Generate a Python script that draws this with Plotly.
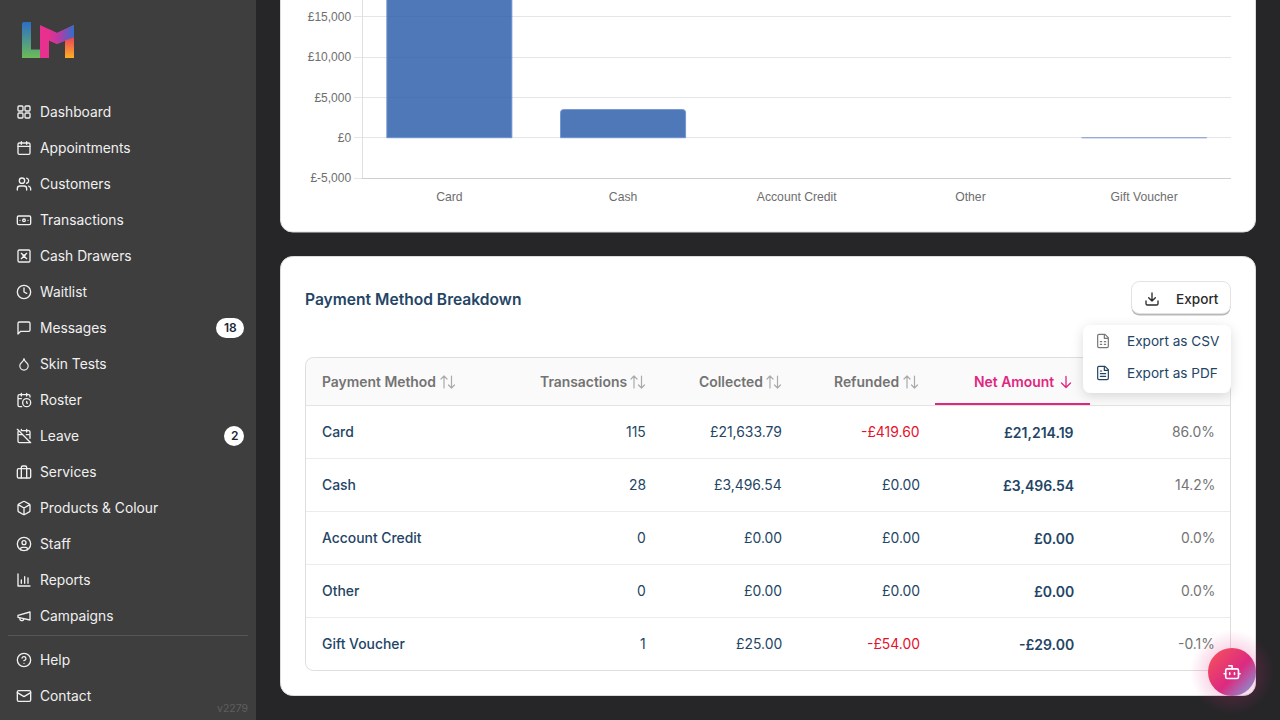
import base64
import plotly.graph_objects as go

# ---------- data ----------
methods = ["Card", "Cash", "Account Credit", "Other", "Gift Voucher"]
net_values = [21214.19, 3496.54, 0.0, 0.0, -29.0]
y_ticks = [-5000, 0, 5000, 10000, 15000]
y_tick_labels = ["£-5,000", "£0", "£5,000", "£10,000", "£15,000"]

transactions = ["115", "28", "0", "0", "1"]
collected = ["£21,633.79", "£3,496.54", "£0.00", "£0.00", "£25.00"]
refunded = ["-£419.60", "£0.00", "£0.00", "£0.00", "-£54.00"]
net_labels = ["£21,214.19", "£3,496.54", "£0.00", "£0.00", "-£29.00"]
percent = ["86.0%", "14.2%", "0.0%", "0.0%", "-0.1%"]

nav_items = ["Dashboard", "Appointments", "Customers", "Transactions", "Cash Drawers",
             "Waitlist", "Messages", "Skin Tests", "Roster", "Leave", "Services",
             "Products & Colour", "Staff", "Reports", "Campaigns"]
nav_footer = ["Help", "Contact"]

# ---------- colours ----------
PAGE = "#262628"
SIDE = "#3e3e3e"
NAVY = "#234565"
GREY = "#737373"
RED = "#e5102a"
PINK = "#e0267f"
FONT = "Inter"

# ---------- icons (24 unit box) ----------
ICONS = {
 "Dashboard": '<rect x="3" y="3" width="7.5" height="7.5" rx="1.5"/><rect x="13.5" y="3" width="7.5" height="7.5" rx="1.5"/><rect x="3" y="13.5" width="7.5" height="7.5" rx="1.5"/><rect x="13.5" y="13.5" width="7.5" height="7.5" rx="1.5"/>',
 "Appointments": '<rect x="3" y="4.5" width="18" height="17" rx="2"/><path d="M3 9.5h18M8 2.5v4M16 2.5v4"/>',
 "Customers": '<path d="M16 21v-2a4 4 0 0 0-4-4H6a4 4 0 0 0-4 4v2"/><circle cx="9" cy="7" r="4"/><path d="M22 21v-2a4 4 0 0 0-3-3.87M16 3.13a4 4 0 0 1 0 7.75"/>',
 "Transactions": '<rect x="2" y="6" width="20" height="13" rx="2"/><circle cx="12" cy="12.5" r="2"/><path d="M6 12.5h.01M18 12.5h.01"/>',
 "Cash Drawers": '<rect x="3" y="3" width="18" height="18" rx="2"/><path d="M8 8l8 8M16 8l-8 8"/><circle cx="12" cy="12" r="1.5"/>',
 "Waitlist": '<circle cx="12" cy="12" r="10"/><path d="M12 6v6l4 2"/>',
 "Messages": '<path d="M21 15a2 2 0 0 1-2 2H7l-4 4V5a2 2 0 0 1 2-2h14a2 2 0 0 1 2 2z"/>',
 "Skin Tests": '<path d="M12 22a7 7 0 0 0 7-7c0-2-1-3.9-3-5.5s-3.5-4-4-6.5c-.5 2.5-2 4.9-4 6.5C6 11.1 5 13 5 15a7 7 0 0 0 7 7z" transform="translate(12 13) scale(.9) translate(-12 -13)"/>',
 "Roster": '<path d="M21 7.5V6a2 2 0 0 0-2-2H5a2 2 0 0 0-2 2v14a2 2 0 0 0 2 2h3.5M16 2v4M8 2v4M3 10h5"/><circle cx="16" cy="16" r="6"/><path d="M16 14v2l1 1"/>',
 "Leave": '<path d="M4.2 4.2A2 2 0 0 0 3 6v14a2 2 0 0 0 2 2h14a2 2 0 0 0 1.82-1.18M21 15.5V6a2 2 0 0 0-2-2H9.5M16 2v4M3 10h7M21 10h-5.5M2 2l20 20M8 2v2"/>',
 "Services": '<rect x="2" y="7" width="20" height="14" rx="2"/><path d="M16 21V5a2 2 0 0 0-2-2h-4a2 2 0 0 0-2 2v16"/>',
 "Products & Colour": '<path d="M21 8a2 2 0 0 0-1-1.73l-7-4a2 2 0 0 0-2 0l-7 4A2 2 0 0 0 3 8v8a2 2 0 0 0 1 1.73l7 4a2 2 0 0 0 2 0l7-4A2 2 0 0 0 21 16ZM3.3 7 12 12l8.7-5M12 22V12"/>',
 "Staff": '<circle cx="12" cy="12" r="10"/><circle cx="12" cy="10" r="3"/><path d="M7 20.662V19a2 2 0 0 1 2-2h6a2 2 0 0 1 2 2v1.662"/>',
 "Reports": '<path d="M3 3v18h18M8 17v-5M13 17V7M18 17v-8"/>',
 "Campaigns": '<path d="m3 11 18-5v12L3 14v-3zM11.6 16.8a3 3 0 1 1-5.8-1.6"/>',
 "Help": '<circle cx="12" cy="12" r="10"/><path d="M9.09 9a3 3 0 0 1 5.83 1c0 2-3 3-3 3M12 17h.01"/>',
 "Contact": '<rect x="2" y="4" width="20" height="16" rx="2"/><path d="m22 7-10 6L2 7"/>',
}

def icon(name, cy):
    return (f'<g transform="translate(16 {cy-8}) scale(.6667)" fill="none" stroke="#f0f0f0" '
            f'stroke-width="2" stroke-linecap="round" stroke-linejoin="round">{ICONS[name]}</g>')

nav_y = [112 + 36 * i for i in range(len(nav_items))]
foot_y = [660, 696]

def sort_icon(x, cy=382):
    return (f'<path d="M{x+2.5} {cy+6}V{cy-6}M{x-.5} {cy-3}L{x+2.5} {cy-6}L{x+5.5} {cy-3}'
            f'M{x+10} {cy-6}V{cy+6}M{x+7} {cy+3}L{x+10} {cy+6}L{x+13} {cy+3}" '
            f'fill="none" stroke="#ababab" stroke-width="1.2" stroke-linecap="round" stroke-linejoin="round"/>')

row_lines = "".join(f'<path d="M306 {y}.5H1230" stroke="#ececec"/>' for y in [458, 511, 564, 617])

backdrop = f'''<svg xmlns="http://www.w3.org/2000/svg" width="1280" height="720" viewBox="0 0 1280 720">
<defs>
<linearGradient id="lg" x1="0" y1="0" x2="0" y2="1"><stop offset="0" stop-color="#2d6ec6"/><stop offset="1" stop-color="#6dbb58"/></linearGradient>
<linearGradient id="mg" x1="0" y1="0" x2="1" y2="0"><stop offset="0" stop-color="#e8308f"/><stop offset=".45" stop-color="#b03da8"/><stop offset="1" stop-color="#2f70cc"/></linearGradient>
<linearGradient id="og" x1="0" y1="0" x2="0" y2="1"><stop offset="0" stop-color="#e8405f"/><stop offset="1" stop-color="#fdb022"/></linearGradient>
<linearGradient id="bg" x1=".05" y1=".1" x2=".95" y2=".95"><stop offset="0" stop-color="#f44f5e"/><stop offset=".55" stop-color="#dc2a80"/><stop offset="1" stop-color="#7f9bd8"/></linearGradient>
<radialGradient id="glow"><stop offset=".6" stop-color="#e02a80" stop-opacity=".16"/><stop offset="1" stop-color="#e02a80" stop-opacity="0"/></radialGradient>
<filter id="ds" x="-20%" y="-30%" width="140%" height="170%"><feDropShadow dx="0" dy="3" stdDeviation="6" flood-color="#000" flood-opacity=".14"/></filter>
<clipPath id="tc"><rect x="305.5" y="357.5" width="925" height="313" rx="8"/></clipPath>
</defs>
<rect width="1280" height="720" fill="{PAGE}"/>
<rect width="256" height="720" fill="{SIDE}"/>
<path d="M8 635.5H248" stroke="#565656"/>
<path d="M22 24a2 2 0 0 1 2-2h7v27.5h9V58H22z" fill="url(#lg)"/>
<path d="M40 25l17 8 17-8v12l-17 7-8-3.500V58h-9z" fill="#e8308f"/>
<path d="M49 29.200l8 3.800 17-8v12l-17 7-8-3.500z" fill="url(#mg)"/>
<path d="M65 40.500l9-3.500V58h-9z" fill="url(#og)"/>
{''.join(icon(n, y) for n, y in zip(nav_items, nav_y))}
{''.join(icon(n, y) for n, y in zip(nav_footer, foot_y))}
<rect x="216" y="318" width="28" height="20" rx="10" fill="#fff"/>
<circle cx="234" cy="436" r="10" fill="#fff"/>
<rect x="280.500" y="-20" width="975" height="252" rx="12" fill="#fff" stroke="#dcdcdc"/>
<rect x="280.500" y="256.500" width="975" height="439" rx="12" fill="#fff" stroke="#dcdcdc"/>
<g clip-path="url(#tc)"><rect x="305.500" y="357.500" width="925" height="48" fill="#fafafa"/></g>
<path d="M306 405.500H1230" stroke="#e3e3e3"/>
{row_lines}
<rect x="305.500" y="357.500" width="925" height="313" rx="8" fill="none" stroke="#dedede"/>
<rect x="935" y="403" width="155" height="2" fill="{PINK}"/>
{sort_icon(441.5)}{sort_icon(631.5)}{sort_icon(767.5)}{sort_icon(904.5)}
<path d="M1066 376.500V387.500M1061.500 383L1066 387.500L1070.500 383" fill="none" stroke="{PINK}" stroke-width="1.300" stroke-linecap="round" stroke-linejoin="round"/>
<rect x="1131.500" y="282.500" width="99" height="33" rx="8" fill="#b8b8b8"/>
<rect x="1131.500" y="281.500" width="99" height="32" rx="8" fill="#fff" stroke="#e2e2e2"/>
<g transform="translate(1144 291) scale(.667)" fill="none" stroke="#2a2a2a" stroke-width="2" stroke-linecap="round" stroke-linejoin="round"><path d="M3 15v4a2 2 0 0 0 2 2h14a2 2 0 0 0 2-2v-4M7 10l5 5 5-5M12 15V3"/></g>
<rect x="1083" y="325" width="148" height="68" rx="8" fill="#fff" filter="url(#ds)"/>
<g transform="translate(1095 333) scale(.667)" fill="none" stroke="#777" stroke-width="1.800" stroke-linecap="round" stroke-linejoin="round"><path d="M15 2H6a2 2 0 0 0-2 2v16a2 2 0 0 0 2 2h12a2 2 0 0 0 2-2V7zM14 2v6h6M8 13h2M14 13h2M8 17h2M14 17h2"/></g>
<g transform="translate(1095 365) scale(.667)" fill="none" stroke="{NAVY}" stroke-width="1.800" stroke-linecap="round" stroke-linejoin="round"><path d="M15 2H6a2 2 0 0 0-2 2v16a2 2 0 0 0 2 2h12a2 2 0 0 0 2-2V7zM14 2v6h6M8 13h8M8 17h8M8 9h2"/></g>
<circle cx="1232" cy="672" r="42" fill="url(#glow)"/>
<circle cx="1232" cy="672" r="24" fill="url(#bg)"/>
<g transform="translate(1222.500 662.500) scale(.8)" fill="none" stroke="#fff" stroke-width="2" stroke-linecap="round" stroke-linejoin="round"><path d="M12 8V4H8"/><rect x="4" y="8" width="16" height="12" rx="2"/><path d="M2 14h2M20 14h2M15 13v2M9 13v2"/></g>
</svg>'''
backdrop_uri = "data:image/svg+xml;base64," + base64.b64encode(backdrop.encode()).decode()

W, H = 1280, 720
annotations = []

def txt(x, y, s, size=14, color=NAVY, anchor="left", weight=400, family=FONT):
    annotations.append(dict(x=x / W, y=1 - y / H, xref="paper", yref="paper", text=s,
                            showarrow=False, xanchor=anchor, yanchor="middle",
                            font=dict(family=family, size=size, color=color, weight=weight),
                            borderpad=0, borderwidth=0))

for name, y in zip(nav_items, nav_y):
    txt(40, y, name, size=13.8, color="#f0f0f0")
for name, y in zip(nav_footer, foot_y):
    txt(40, y, name, size=13.8, color="#f0f0f0")
txt(248, 708, "v2279", size=10.5, color="#5e5e5e", anchor="right")
txt(230, 328, "18", size=12, color="#1c2536", anchor="center", weight=600)
txt(234, 436, "2", size=12, color="#1c2536", anchor="center", weight=600)

txt(305, 299.5, "Payment Method Breakdown", size=15.6, weight=600)
txt(1176, 299, "Export", size=13.6, color="#2a2a2a", weight=500)
txt(1127, 341, "Export as CSV", size=13.6)
txt(1127, 373, "Export as PDF", size=13.6)

txt(322, 382, "Payment Method", size=13.9, color=GREY, weight=600)
txt(626.5, 382, "Transactions", size=13.9, color=GREY, anchor="right", weight=600)
txt(763, 382, "Collected", size=13.9, color=GREY, anchor="right", weight=600)
txt(899, 382, "Refunded", size=13.9, color=GREY, anchor="right", weight=600)
txt(1054, 382, "Net Amount", size=13.9, color=PINK, anchor="right", weight=600)

row_y = [432, 485, 538, 591, 644]
for i, y in enumerate(row_y):
    txt(322, y, methods[i], size=13.9, weight=500)
    txt(646, y, transactions[i], size=13.9, anchor="right")
    txt(782, y, collected[i], size=13.9, anchor="right")
    txt(919.5, y, refunded[i], size=13.9, anchor="right", color=RED if refunded[i].startswith("-") else NAVY)
    txt(1074, y, net_labels[i], size=14, anchor="right", weight=600)
    txt(1214.5, y, percent[i], size=13.9, anchor="right", color=GREY)

line_widths = [0 if v == 0 else (1 if abs(v) > 1000 else 0.5) for v in net_values]

fig = go.Figure(go.Bar(
    x=methods, y=net_values,
    marker=dict(color="rgba(48,96,173,0.85)",
                line=dict(color="rgba(110,148,208,0.9)", width=line_widths)),
    hoverinfo="skip",
))

fig.update_layout(
    width=W, height=H, autosize=False,
    margin=dict(l=0, r=0, t=0, b=0, pad=0, autoexpand=False),
    paper_bgcolor=PAGE, plot_bgcolor="rgba(0,0,0,0)",
    showlegend=False, bargap=0.28, barcornerradius=3,
    annotations=annotations,
    images=[dict(source=backdrop_uri, xref="paper", yref="paper", x=0, y=1, sizex=1, sizey=1,
                 xanchor="left", yanchor="top", sizing="stretch", layer="below")],
    xaxis=dict(domain=[362.5 / W, 1231 / W], type="category", range=[-0.5, 4.5],
               showgrid=False, zeroline=False, showline=True, linecolor="#cfcfcf", linewidth=1,
               ticks="", ticklabelstandoff=7,
               tickfont=dict(family="Liberation Sans", size=12.2, color="#6e6e6e")),
    yaxis=dict(domain=[1 - 178 / H, 1], range=[-5000, 17100],
               tickvals=y_ticks, ticktext=y_tick_labels,
               showgrid=True, gridcolor="#e5e5e5", gridwidth=1,
               zeroline=True, zerolinecolor="#e5e5e5", zerolinewidth=1,
               showline=True, linecolor="#e0e0e0", linewidth=1,
               ticks="outside", ticklen=8, tickcolor="#e5e5e5", tickwidth=1,
               tickfont=dict(family="Liberation Sans", size=12, color="#6e6e6e")),
)

fig.write_html("out.html", config={"displayModeBar": False},
               post_script="document.body.style.margin='0';document.body.style.overflow='hidden';document.body.style.background='#262628';")
